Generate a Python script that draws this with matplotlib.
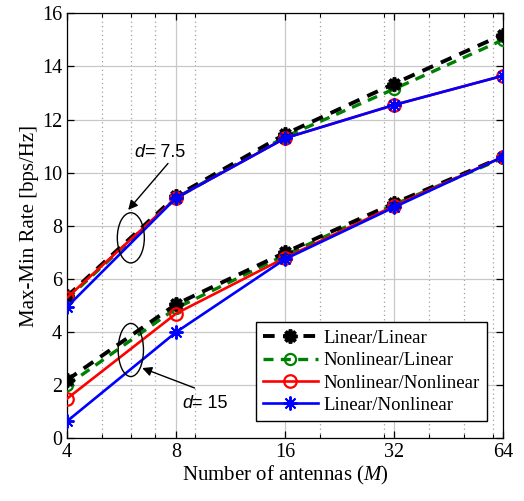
import numpy as np
import matplotlib.pyplot as plt
from matplotlib.patches import Ellipse
from matplotlib.ticker import FixedLocator, NullFormatter

plt.rcParams['font.family'] = ['Liberation Serif', 'DejaVu Serif']
plt.rcParams['mathtext.fontset'] = 'custom'
plt.rcParams['mathtext.it'] = 'Liberation Serif:italic'
plt.rcParams['mathtext.rm'] = 'Liberation Serif'

# ------------------------------------------------------------
# data
# ------------------------------------------------------------
antennas = [4, 8, 16, 32, 64]

# d = 7.5
lin_lin_75 = [5.35, 9.12, 11.45, 13.35, 15.2]
nonlin_lin_75 = [5.25, 9.05, 11.35, 13.15, 15.0]
nonlin_nonlin_75 = [5.3, 9.05, 11.3, 12.55, 13.65]
lin_nonlin_75 = [4.95, 9.05, 11.3, 12.55, 13.65]

# d = 15
lin_lin_15 = [2.2, 5.05, 7.0, 8.85, 10.6]
nonlin_lin_15 = [2.0, 4.9, 6.9, 8.8, 10.55]
nonlin_nonlin_15 = [1.5, 4.7, 6.8, 8.75, 10.6]
lin_nonlin_15 = [0.65, 4.0, 6.75, 8.7, 10.6]

series_names = ["Linear/Linear", "Nonlinear/Linear", "Nonlinear/Nonlinear", "Linear/Nonlinear"]
series_data = [
    (lin_lin_75, lin_lin_15),
    (nonlin_lin_75, nonlin_lin_15),
    (nonlin_nonlin_75, nonlin_nonlin_15),
    (lin_nonlin_75, lin_nonlin_15),
]

y_ticks = [0, 2, 4, 6, 8, 10, 12, 14, 16]
minor_x = [5, 6, 7, 9, 20, 30, 40, 50, 60]

asterisk = (8, 2, 0)
styles = [
    dict(color="black", ls=(0, (3, 2.2)), lw=2.8, marker=asterisk, ms=10, mew=2.6, mfc="black", zorder=4),
    dict(color=(0, 0.5, 0), ls=(0, (3, 2.2)), lw=2.4, marker="o", ms=8, mew=1.6, mfc="none", zorder=3),
    dict(color="red", ls="-", lw=1.9, marker="o", ms=9, mew=1.6, mfc="none", zorder=5),
    dict(color="blue", ls="-", lw=1.9, marker=asterisk, ms=10, mew=1.4, zorder=6),
]

# ------------------------------------------------------------
# plot
# ------------------------------------------------------------
fig = plt.figure(figsize=(5.24, 5.01), dpi=100)
ax = fig.add_axes([0.128, 0.1248, 0.832, 0.8487])
ax.set_xscale("log", base=2)

handles = []
for name, (d75, d15), st in zip(series_names, series_data, styles):
    h, = ax.plot(antennas, d75, label=name, **st)
    ax.plot(antennas, d15, **st)
    handles.append(h)

ax.set_xlim(4, 64)
ax.set_ylim(0, 16)
ax.set_xticks(antennas)
ax.set_xticklabels([str(a) for a in antennas])
ax.xaxis.set_minor_locator(FixedLocator(minor_x))
ax.xaxis.set_minor_formatter(NullFormatter())
ax.set_yticks(y_ticks)

ax.grid(True, which="major", color="#c8c8c8", lw=0.9, ls="-")
ax.grid(True, which="minor", axis="x", color="#a0a0a0", lw=0.9, ls=(0, (1, 2.5)))
ax.set_axisbelow(True)
ax.tick_params(which="both", direction="in", top=True, right=True, labelsize=14.5)
ax.tick_params(which="major", length=5, width=0.9)
ax.tick_params(which="minor", length=3, width=0.8)
for sp in ax.spines.values():
    sp.set_linewidth(0.9)

ax.set_xlabel("Number of antennas ($M$)", fontsize=15, labelpad=1)
ax.set_ylabel("Max-Min Rate [bps/Hz]", fontsize=15, labelpad=2)

leg = ax.legend(handles=handles, loc="lower right", bbox_to_anchor=(0.963, 0.04),
                fontsize=13.5, handlelength=2.9, handletextpad=0.3, labelspacing=0.28,
                borderpad=0.4, borderaxespad=0, fancybox=False, framealpha=1,
                edgecolor="black")
leg.get_frame().set_linewidth(1.0)

# ellipses marking the two groups (centred at M = 6)
to_axes = ax.transData + ax.transAxes.inverted()
for cx, cy, w, h in [(6, 7.55, 0.062, 0.118), (6, 3.33, 0.058, 0.125)]:
    ex, ey = to_axes.transform((cx, cy))
    ax.add_patch(Ellipse((ex, ey), w, h, transform=ax.transAxes, fill=False,
                         ec="black", lw=1.0, zorder=7))

arrow = dict(arrowstyle="-|>", color="black", lw=1.0, mutation_scale=14, shrinkA=0, shrinkB=0)
ax.annotate("", xy=(5.9, 8.6), xytext=(7.6, 10.35), arrowprops=arrow, zorder=8)
ax.annotate("", xy=(6.45, 2.65), xytext=(9.0, 1.9), arrowprops=arrow, zorder=8)

sans = ["Liberation Sans", "DejaVu Sans"]
ax.text(6.55, 10.75, "d", fontsize=13, family=sans, style="italic", ha="right", va="center")
ax.text(6.55, 10.75, "= 7.5", fontsize=13, family=sans, ha="left", va="center")
ax.text(8.85, 1.33, "d", fontsize=13, family=sans, style="italic", ha="right", va="center")
ax.text(8.85, 1.33, "= 15", fontsize=13, family=sans, ha="left", va="center")

fig.savefig("out.png", dpi=100)
